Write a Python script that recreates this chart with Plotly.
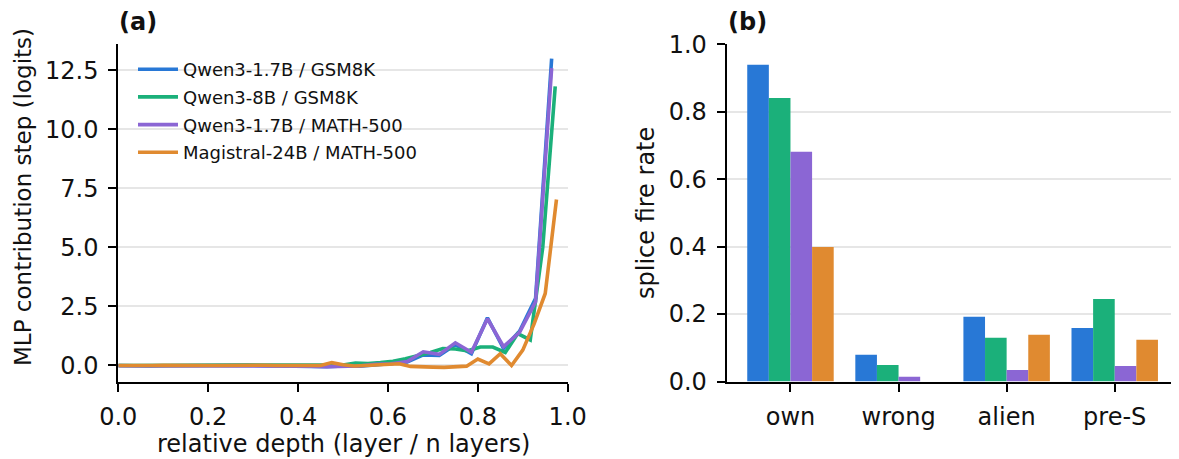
import plotly.graph_objects as go

# ---------------- data ----------------
series_names = ["Qwen3-1.7B / GSM8K", "Qwen3-8B / GSM8K",
                "Qwen3-1.7B / MATH-500", "Magistral-24B / MATH-500"]
series_colors = ["#2878d6", "#1bb07a", "#8b66d4", "#e08a30"]
n_layers = [28, 36, 28, 40]

# MLP contribution step (logits) per layer
qwen17_gsm8k = [0.00, -0.02, -0.02, -0.01, 0.00, -0.01, 0.00, 0.00, 0.01, -0.01,
                -0.02, 0.00, -0.02, -0.05, -0.02, -0.03, 0.02, 0.08, 0.15, 0.45,
                0.42, 0.88, 0.50, 2.02, 0.72, 1.45, 2.85, 13.00]
qwen8_gsm8k = [0.00, 0.00, -0.01, 0.00, 0.01, 0.00, -0.01, 0.00, 0.00, 0.01,
               0.00, -0.01, 0.00, 0.00, 0.01, 0.00, -0.01, 0.00, 0.02, 0.10,
               0.08, 0.12, 0.18, 0.28, 0.40, 0.55, 0.72, 0.70, 0.62, 0.78,
               0.78, 0.55, 1.35, 1.08, 5.00, 11.83]
qwen17_math = [-0.01, -0.01, -0.02, 0.00, -0.01, 0.00, 0.00, -0.01, 0.00, -0.02,
               -0.02, -0.01, -0.03, -0.05, -0.03, -0.02, 0.05, 0.07, 0.17, 0.58,
               0.47, 0.96, 0.56, 1.98, 0.80, 1.40, 2.70, 12.60]
magistral_math = [0.00, -0.01, 0.00, 0.00, 0.01, 0.00, 0.00, -0.01, 0.00, 0.00,
                  0.01, 0.00, 0.00, 0.01, 0.00, -0.01, 0.00, 0.00, 0.00, 0.12,
                  0.03, -0.02, 0.00, 0.02, 0.06, 0.07, -0.04, -0.07, -0.07, -0.08,
                  -0.04, -0.03, 0.27, 0.07, 0.50, 0.00, 0.65, 1.75, 3.05, 7.03]
line_values = [qwen17_gsm8k, qwen8_gsm8k, qwen17_math, magistral_math]

# splice fire rate per condition
bar_categories = ["own", "wrong", "alien", "pre-S"]
rate_qwen17_gsm8k = [0.939, 0.079, 0.192, 0.159]
rate_qwen8_gsm8k = [0.841, 0.049, 0.130, 0.245]
rate_qwen17_math = [0.681, 0.014, 0.034, 0.046]
rate_magistral_math = [0.399, 0.000, 0.139, 0.124]
bar_values = [rate_qwen17_gsm8k, rate_qwen8_gsm8k, rate_qwen17_math, rate_magistral_math]

x_ticks = [0.0, 0.2, 0.4, 0.6, 0.8, 1.0]

# ---------------- figure ----------------
W, H = 1179, 459
OFF = 8  # page body margin offset (screen px)
FONT = "DejaVu Sans"
TXT = "#111111"


def sx(p):
    """screen x pixel -> paper fraction"""
    return (p - OFF) / W


def sy(p):
    """screen y pixel (from top) -> paper fraction"""
    return 1 - (p - OFF) / H


fig = go.Figure()

for name, color, n, vals in zip(series_names, series_colors, n_layers, line_values):
    xs = [i / n for i in range(len(vals))]
    fig.add_trace(go.Scatter(
        x=xs, y=vals, mode="lines", name=name,
        line=dict(color=color, width=3.6),
        xaxis="x", yaxis="y", legendgroup=name, showlegend=True,
    ))

for name, color, vals in zip(series_names, series_colors, bar_values):
    fig.add_trace(go.Bar(
        x=bar_categories, y=vals, name=name, marker=dict(color=color, line=dict(width=0)),
        xaxis="x2", yaxis="y2", showlegend=False,
    ))

top_px, bot_px = 44.3, 381.5
ydom = [sy(bot_px), sy(top_px)]

axis_common = dict(
    showline=True, linecolor="black", linewidth=2, mirror=False,
    ticks="outside", ticklen=8, tickwidth=2, tickcolor="black",
    tickfont=dict(family=FONT, size=24, color=TXT),
    zeroline=False, automargin=False,
)

title_font = dict(family=FONT, size=24, color=TXT)

fig.update_layout(
    width=W, height=H,
    margin=dict(l=0, r=0, t=0, b=0),
    paper_bgcolor="white", plot_bgcolor="white",
    font=dict(family=FONT, color=TXT),
    barmode="group", bargap=0.2, bargroupgap=0,
    xaxis=dict(
        domain=[sx(118.3), sx(567.7)], range=[0, 1],
        tickvals=x_ticks, tickformat=".1f", showgrid=False,
        ticklabelstandoff=5, anchor="y", **axis_common,
    ),
    yaxis=dict(
        domain=ydom, range=[-0.68, 13.61], dtick=2.5, tick0=0, tickformat=".1f",
        showgrid=True, gridcolor="#e6e6e6", gridwidth=2,
        ticklabelstandoff=5, anchor="x", **axis_common,
    ),
    xaxis2=dict(
        domain=[sx(726.7), sx(1178.5)], range=[-0.59, 3.59], type="category",
        showgrid=False, ticklabelstandoff=5, anchor="y2", **axis_common,
    ),
    yaxis2=dict(
        domain=ydom, range=[0, 1.0], dtick=0.2, tick0=0, tickformat=".1f",
        showgrid=True, gridcolor="#e6e6e6", gridwidth=2,
        ticklabelstandoff=5, anchor="x2", **axis_common,
    ),
    legend=dict(
        x=sx(133), y=sy(51), xanchor="left", yanchor="top",
        bgcolor="rgba(255,255,255,0)", borderwidth=0,
        font=dict(family=FONT, size=18, color=TXT),
        tracegroupgap=1.3, itemwidth=40,
    ),
    annotations=[
        dict(text="<b>(a)</b>", x=sx(117), y=sy(21.5), xref="paper", yref="paper",
             xanchor="left", yanchor="middle", showarrow=False,
             font=dict(family=FONT, size=24, color=TXT)),
        dict(text="<b>(b)</b>", x=sx(725.5), y=sy(21.5), xref="paper", yref="paper",
             xanchor="left", yanchor="middle", showarrow=False,
             font=dict(family=FONT, size=24, color=TXT)),
        dict(text="relative depth (layer / n layers)", x=sx(343), y=sy(444),
             xref="paper", yref="paper", xanchor="center", yanchor="middle",
             showarrow=False, font=title_font),
        dict(text="MLP contribution step (logits)", x=sx(23), y=sy(197),
             xref="paper", yref="paper", xanchor="center", yanchor="middle",
             textangle=-90, showarrow=False,
             font=dict(family=FONT, size=23, color=TXT)),
        dict(text="splice fire rate", x=sx(646), y=sy(213),
             xref="paper", yref="paper", xanchor="center", yanchor="middle",
             textangle=-90, showarrow=False, font=title_font),
    ],
)

fig.write_html("out.html")
